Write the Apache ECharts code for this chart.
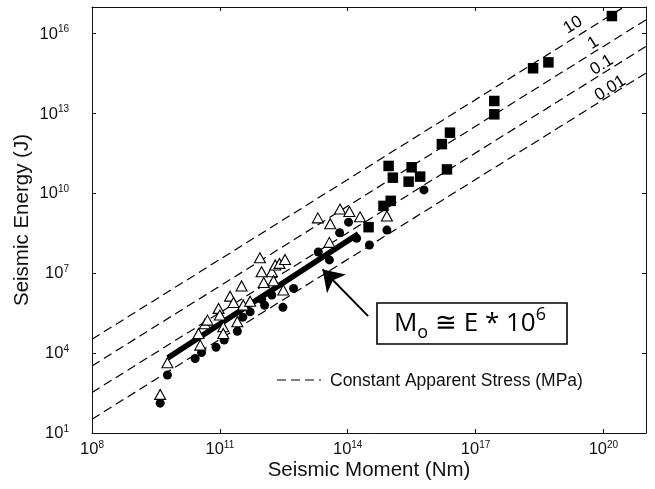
<!DOCTYPE html>
<html><head><meta charset="utf-8">
<script src="https://cdn.jsdelivr.net/npm/echarts@6/dist/echarts.min.js"></script>
<style>html,body{margin:0;padding:0;background:#fff}#c{width:655px;height:489px}</style>
</head><body><div id="c"></div>
<script>
// All values are log10 exponents (Moment in Nm, Energy in J)
const xTicks = [8, 11, 14, 17, 20];
const yTicks = [1, 4, 7, 10, 13, 16];

const squareLogM = [20.20, 18.35, 18.71, 17.44, 17.44, 16.40, 16.21, 14.96, 15.06, 15.50, 15.70, 15.43, 16.33, 15.01, 14.84, 14.49];
const squareLogE = [16.66, 14.70, 14.92, 13.47, 12.97, 12.28, 11.85, 11.03, 10.59, 10.98, 10.63, 10.44, 10.90, 9.72, 9.53, 8.73];

const triangleLogM = [9.60, 9.77, 10.50, 10.54, 10.65, 10.71, 10.97, 11.00, 11.08, 11.08, 11.24, 11.32, 11.41, 11.51, 11.55, 11.71, 11.94, 11.98, 12.03, 12.22, 12.26, 12.30, 12.40, 12.49, 12.53, 13.30, 13.57, 13.59, 13.82, 14.04, 14.29, 14.92];
const triangleLogE = [2.45, 3.64, 4.74, 4.30, 5.10, 5.24, 5.68, 5.43, 4.99, 4.74, 6.14, 5.90, 5.18, 6.52, 5.81, 5.95, 7.58, 7.06, 6.65, 7.06, 6.72, 7.31, 7.37, 6.37, 7.52, 9.08, 8.16, 8.86, 9.41, 9.32, 9.12, 9.15];

const circleLogM = [9.60, 9.77, 10.42, 10.57, 10.91, 11.10, 11.41, 11.54, 11.71, 11.98, 12.05, 12.22, 12.48, 12.73, 13.31, 13.57, 13.81, 14.02, 14.21, 14.51, 14.92, 15.79];
const circleLogE = [2.12, 3.18, 3.80, 4.02, 4.22, 4.49, 4.82, 5.35, 5.55, 6.02, 5.80, 6.18, 5.72, 6.43, 7.80, 7.50, 8.52, 8.92, 8.31, 8.06, 8.62, 10.13];

// Constant apparent stress lines (MPa), endpoints at M = 1e8 and M = 1e21
const stressNames = ['10', '1', '0.1', '0.01'];
const stressLogMRange = [8, 21];
const stressLogEStart = [4.52, 3.52, 2.52, 1.52];
const stressLogEEnd = [17.52, 16.52, 15.52, 14.52];
const stressLabelLogM = [19.29, 19.76, 19.96, 20.16];
const stressLabelLogE = [16.32, 15.65, 14.82, 13.95];

// Mo ~ E * 1e6 trend
const fitLogM = [9.78, 14.25];
const fitLogE = [3.82, 8.48];
const arrowFrom = [14.48, 5.39];
const arrowTo = [13.41, 7.14];

const FONT = '"Liberation Sans", Arial, Helvetica, sans-serif';
const zip = (a, b) => a.map((v, i) => [v, b[i]]);

function tickFmt(list) {
  return function (v) {
    const r = Math.round(v);
    if (Math.abs(v - r) > 1e-6 || list.indexOf(r) < 0) return '';
    return '{b|10}{s|' + r + '}';
  };
}
const richLbl = {
  b: { fontSize: 16.5, fontFamily: FONT, color: '#111', lineHeight: 18, verticalAlign: 'bottom' },
  s: { fontSize: 10, fontFamily: FONT, color: '#111', lineHeight: 10, verticalAlign: 'top' }
};
const axisLineStyle = { show: true, lineStyle: { color: '#111', width: 1 } };

const series = [];
series.push({
  type: 'line', name: 'fit', data: zip(fitLogM, fitLogE), symbol: 'none',
  lineStyle: { color: '#000', width: 5.5 }, itemStyle: { color: '#000' }, z: 3, silent: true,
  markLine: {
    silent: true, symbol: ['none', 'arrow'], symbolSize: 20,
    itemStyle: { color: '#000' },
    lineStyle: { color: '#000', width: 2, type: 'solid' }, label: { show: false },
    emphasis: { disabled: true },
    data: [[{ coord: arrowFrom }, { coord: arrowTo }]]
  }
});
stressNames.forEach((n, i) => {
  series.push({
    type: 'line', name: 'Constant Apparent Stress (MPa)', symbol: 'none', silent: true, z: 2,
    data: [[stressLogMRange[0], stressLogEStart[i]], [stressLogMRange[1], stressLogEEnd[i]]],
    lineStyle: { color: '#000', width: 1.2, type: [9, 5] }
  });
});
series.push({
  type: 'scatter', name: 'stressLabels', symbolSize: 0, silent: true, z: 6,
  itemStyle: { opacity: 1 },
  data: stressNames.map((n, i) => ({ value: [stressLabelLogM[i], stressLabelLogE[i]], name: n })),
  label: { show: true, position: 'inside', formatter: p => p.name, rotate: 32,
    fontSize: 17, fontFamily: FONT, color: '#000' }
});
series.push({
  type: 'scatter', name: 'squares', symbol: 'rect', symbolSize: 10.5, z: 5,
  data: zip(squareLogM, squareLogE), itemStyle: { color: '#000', opacity: 1 }
});
series.push({
  type: 'scatter', name: 'circles', symbol: 'circle', symbolSize: 9, z: 5,
  data: zip(circleLogM, circleLogE), itemStyle: { color: '#000', opacity: 1 }
});
series.push({
  type: 'scatter', name: 'triangles', symbol: 'triangle', symbolSize: [11, 10], z: 6,
  data: zip(triangleLogM, triangleLogE), itemStyle: { color: '#fff', borderColor: '#000', borderWidth: 1.1, opacity: 1 }
});

const chart = echarts.init(document.getElementById('c'), null, { renderer: 'canvas' });
chart.setOption({
  animation: false,
  backgroundColor: '#fff',
  grid: { left: 92, right: 9, top: 7, bottom: 56, containLabel: false },
  xAxis: [{
    type: 'value', min: 8, max: 21, interval: 3, position: 'bottom',
    name: 'Seismic Moment (Nm)', nameLocation: 'middle', nameGap: 27, nameMoveOverlap: false,
    nameTextStyle: { fontSize: 20.5, fontFamily: FONT, color: '#111' },
    axisLine: axisLineStyle, axisTick: { show: true, inside: true, length: 4, lineStyle: { color: '#111' } },
    axisLabel: { formatter: tickFmt(xTicks), rich: richLbl, margin: 7, showMaxLabel: false },
    splitLine: { show: false }
  }, {
    type: 'value', min: 8, max: 21, interval: 3, position: 'top',
    axisLine: axisLineStyle, axisTick: { show: true, inside: true, length: 4, lineStyle: { color: '#111' } },
    axisLabel: { show: false }, splitLine: { show: false }
  }],
  yAxis: [{
    type: 'value', min: 1, max: 17, interval: 3, position: 'left',
    name: 'Seismic Energy (J)', nameLocation: 'middle', nameGap: 59, nameMoveOverlap: false,
    nameTextStyle: { fontSize: 20.5, fontFamily: FONT, color: '#111' },
    axisLine: axisLineStyle, axisTick: { show: true, inside: true, length: 4, lineStyle: { color: '#111' } },
    axisLabel: { formatter: tickFmt(yTicks), rich: richLbl, margin: 23, showMaxLabel: false },
    splitLine: { show: false }
  }, {
    type: 'value', min: 1, max: 17, interval: 3, position: 'right',
    axisLine: axisLineStyle, axisTick: { show: true, inside: true, length: 4, lineStyle: { color: '#111' } },
    axisLabel: { show: false }, splitLine: { show: false }
  }],
  graphic: [
    { type: 'rect', shape: { x: 377, y: 303, width: 190, height: 41 }, style: { fill: '#fff', stroke: '#000', lineWidth: 1.6 }, z: 10 },
    { type: 'text', x: 470, y: 324, z: 11, style: {
        text: '{m|M}{sub|o}{m| \u2245 E * 10}{sup|6}', align: 'center', verticalAlign: 'middle',
        rich: {
          m: { fontSize: 26, fontFamily: '"Open Sans", sans-serif', fill: '#000', lineHeight: 36, verticalAlign: 'middle' },
          sub: { fontSize: 18, fontFamily: '"Open Sans", sans-serif', fill: '#000', lineHeight: 18, verticalAlign: 'bottom' },
          sup: { fontSize: 18, fontFamily: '"Open Sans", sans-serif', fill: '#000', lineHeight: 28, verticalAlign: 'top' }
        } } },
    { type: 'line', shape: { x1: 277, y1: 380, x2: 321, y2: 380 }, style: { stroke: '#000', lineWidth: 1.2, lineDash: [9, 5] }, z: 10 },
    { type: 'text', x: 330, y: 381, z: 10, style: { text: 'Constant Apparent Stress (MPa)', font: '17.5px ' + FONT, fill: '#111', verticalAlign: 'middle' } }
  ],
  series: series
});
</script></body></html>
